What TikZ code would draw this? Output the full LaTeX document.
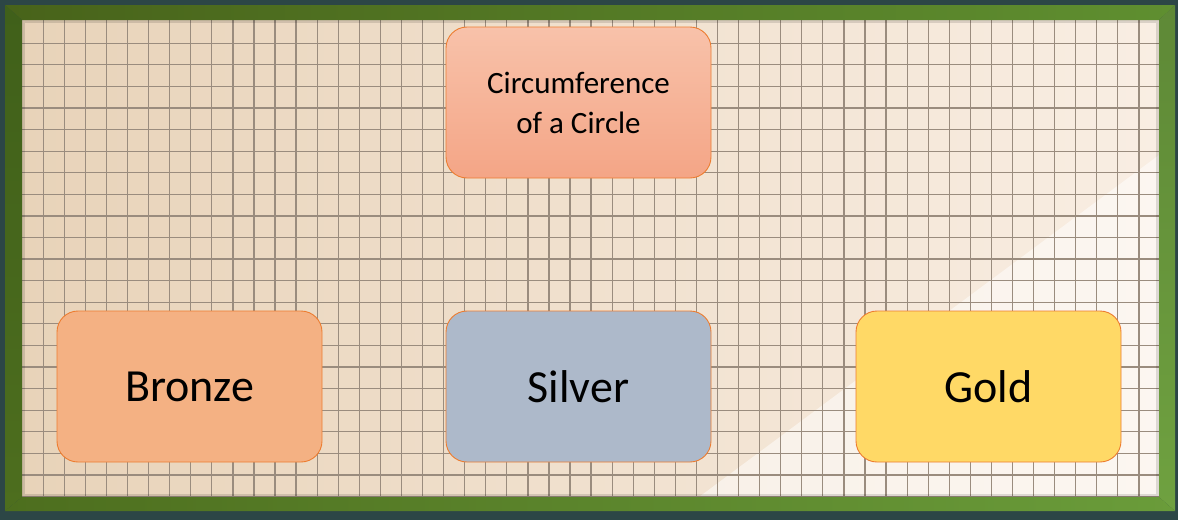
\documentclass[tikz,border=0pt]{standalone}
\usepackage{fontspec}
\setmainfont{Carlito}
\definecolor{bgdark}{HTML}{2C4646}
\definecolor{paperL}{HTML}{E8D3B9}
\definecolor{paperR}{HTML}{F9EEE3}
\definecolor{gridc}{HTML}{9A8C7E}
\definecolor{frTL}{HTML}{48631A}
\definecolor{frTR}{HTML}{5F8F30}
\definecolor{frL}{HTML}{40601A}
\definecolor{frR}{HTML}{6FA140}
\definecolor{frBL}{HTML}{4D6E1E}
\definecolor{frBR}{HTML}{6A9C3A}
\definecolor{boxedge}{HTML}{ED7D31}
\definecolor{circT}{HTML}{F8C2AA}
\definecolor{circB}{HTML}{F4A586}
\definecolor{bronzec}{HTML}{F4B183}
\definecolor{silverc}{HTML}{ADB9CA}
\definecolor{goldc}{HTML}{FFD966}
\tikzset{
  gridline/.style={draw=gridc, line width=1.25pt},
  card/.style={draw=boxedge, line width=0.9pt, rounded corners=21pt,
    minimum width=265pt, minimum height=151pt, align=center, inner sep=0pt, text=black},
  bigtext/.style={font=\fontsize{46}{52}\selectfont},
  smalltext/.style={font=\fontsize{31}{40}\selectfont},
}
\begin{document}
\begin{tikzpicture}[x=1pt,y=-1pt]
\useasboundingbox (0,0) rectangle (1178,520);
\fill[bgdark] (0,0) rectangle (1178,520);
% paper
\shade[left color=paperL, right color=paperR] (22,20) rectangle (1159,497);
\fill[white, opacity=0.5] (1159,155) -- (1159,497) -- (699,497) -- cycle;
% grid
\begin{scope}
\clip (22,20) rectangle (1159,497);
\foreach \i in {1,...,53} \draw[gridline] ({22.2+21.07*\i},20) -- ({22.2+21.07*\i},497);
\foreach \j in {1,...,22} \draw[gridline] (22,{21.7+21.58*\j}) -- (1159,{21.7+21.58*\j});
\end{scope}
% frame
\shade[left color=frTL, right color=frTR] (5,5) -- (1175,5) -- (1159,20) -- (22,20) -- cycle;
\shade[top color=frL, bottom color=frBL] (5,5) -- (22,20) -- (22,497) -- (5,511) -- cycle;
\shade[top color=frR!85!black, bottom color=frR] (1175,5) -- (1175,511) -- (1159,497) -- (1159,20) -- cycle;
\shade[left color=frBL, right color=frBR] (5,511) -- (22,497) -- (1159,497) -- (1175,511) -- cycle;
\draw[black, opacity=0.12, line width=3pt] (23.5,21.5) rectangle (1157.5,495.5);
% cards
\node[card, top color=circT, bottom color=circB, smalltext] (circ) at (578.5,102.5) {Circumference\\of a Circle};
\node[card, fill=bronzec, bigtext] (bronze) at (189.5,386.5) {Bronze};
\node[card, fill=silverc, bigtext] (silver) at (578.5,386.5) {Silver};
\node[card, fill=goldc, bigtext] (gold) at (988.5,386.5) {Gold};
\end{tikzpicture}
\end{document}
